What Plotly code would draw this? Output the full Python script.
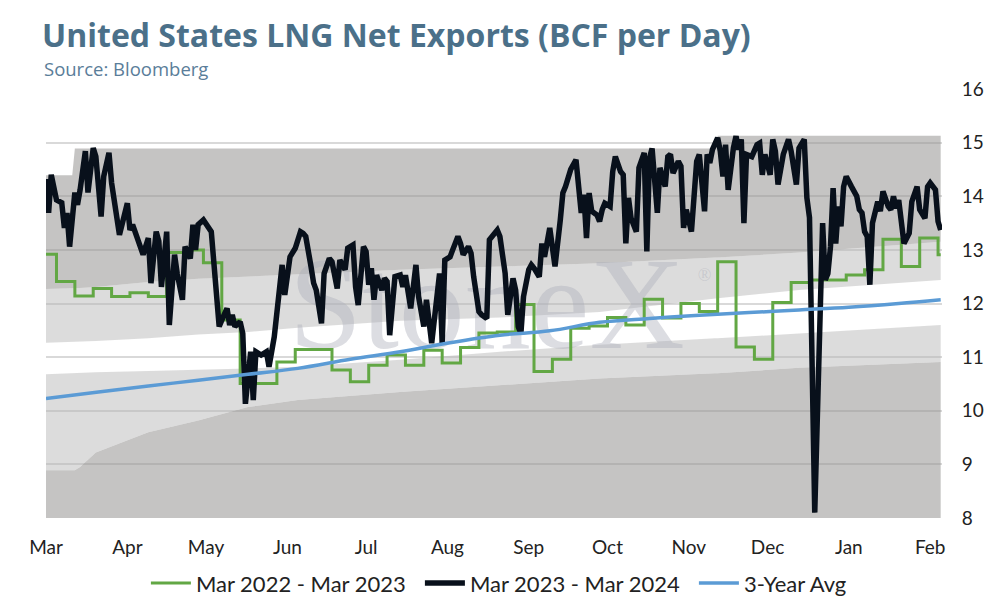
import pandas as pd
import plotly.graph_objects as go

START = pd.Timestamp("2023-03-01")

# Mar 2023 - Mar 2024 (days after Mar 1, BCF/d)
days_2324 = [0, 1, 2, 4, 6, 7, 8, 9, 11, 12, 13, 15, 16, 18, 19, 21, 22, 24, 25, 28,
             31, 32, 33, 35, 37, 39, 40, 42, 43, 44, 46, 47, 49, 50, 52, 53, 55, 56, 57, 58,
             60, 63, 64, 65, 66, 67, 69, 70, 71, 72, 74, 75, 76, 78, 79, 80, 82, 84, 85, 87,
             88, 90, 91, 93, 95, 97, 98, 99, 101, 102, 103, 105, 106, 108, 109, 111, 112, 114, 115, 117,
             118, 119, 121, 122, 123, 124, 125, 126, 128, 129, 130, 131, 133, 135, 136, 137, 139, 141, 142, 144,
             145, 147, 150, 151, 152, 154, 155, 157, 158, 159, 161, 162, 163, 165, 166, 168, 169, 171, 172, 173,
             175, 176, 178, 179, 180, 181, 182, 184, 185, 186, 188, 189, 190, 192, 193, 194, 196, 197, 198, 200,
             202, 203, 204, 205, 206, 207, 208, 210, 211, 212, 213, 215, 216, 217, 219, 220, 221, 222, 223, 225,
             226, 228, 229, 230, 231, 233, 234, 236, 237, 238, 239, 241, 242, 243, 244, 246, 248, 249, 251, 252,
             253, 254, 256, 257, 258, 259, 260, 262, 263, 264, 265, 266, 267, 269, 271, 272, 273, 274, 276, 277,
             278, 279, 281, 283, 284, 286, 287, 289, 290, 291, 293, 296, 297, 298, 299, 300, 301, 302, 303, 304,
             305, 307, 309, 310, 311, 312, 313, 314, 315, 317, 318, 319, 321, 322, 323, 324, 325, 327, 329, 330,
             331, 332, 333, 335, 336, 337, 339, 340, 341]
exports_2324 = [14.32, 13.69, 14.40, 13.93, 13.88, 13.41, 13.69, 13.06, 14.07, 13.84, 14.12, 14.84, 14.07, 14.90, 14.74, 13.62, 14.37, 14.81, 14.25, 13.28,
                13.87, 13.37, 13.47, 13.16, 12.91, 13.22, 12.38, 13.34, 13.16, 12.31, 13.34, 11.60, 12.91, 12.56, 12.07, 13.06, 12.84, 13.47, 13.00, 13.47,
                13.56, 13.34, 12.69, 12.31, 11.57, 11.69, 11.91, 11.60, 11.79, 11.57, 11.66, 11.44, 10.13, 11.10, 10.20, 11.10, 11.04, 11.10, 10.82, 11.38,
                11.82, 12.72, 12.16, 12.87, 13.03, 13.34, 13.31, 13.25, 12.69, 12.38, 12.25, 11.63, 12.56, 12.84, 12.78, 12.28, 12.81, 12.63, 13.03, 13.09,
                12.31, 11.97, 13.06, 12.97, 12.35, 12.66, 12.07, 12.53, 12.25, 12.47, 12.41, 11.41, 12.50, 12.53, 12.31, 12.53, 11.91, 12.72, 12.13, 11.57,
                12.07, 11.26, 12.56, 11.26, 12.81, 12.87, 13.00, 13.25, 13.12, 12.91, 13.06, 12.94, 12.50, 11.85, 11.79, 11.72, 13.19, 13.34, 13.37, 13.25,
                12.56, 11.79, 12.47, 12.25, 11.57, 11.44, 12.13, 12.63, 12.72, 12.66, 12.50, 13.12, 12.87, 13.41, 13.00, 12.69, 13.55, 14.06, 14.18, 14.50,
                14.68, 14.09, 13.69, 14.03, 13.22, 14.06, 13.72, 13.65, 13.53, 13.75, 13.87, 13.81, 14.46, 14.74, 14.46, 14.40, 13.12, 13.97, 13.59, 13.34,
                14.53, 14.81, 12.97, 14.71, 14.89, 13.69, 14.53, 14.18, 14.74, 14.78, 14.43, 14.65, 14.56, 13.41, 13.75, 13.34, 14.65, 14.78, 13.72, 14.78,
                14.62, 14.87, 15.09, 14.84, 14.37, 14.96, 14.12, 14.90, 15.12, 14.87, 15.06, 13.50, 14.78, 14.74, 14.96, 14.99, 14.40, 14.78, 14.40, 15.06,
                14.84, 14.22, 14.78, 15.06, 14.84, 14.22, 14.90, 15.06, 13.97, 13.60, 8.10, 13.50, 12.44, 12.56, 13.06, 14.15, 13.12, 13.81, 13.44, 14.18,
                14.37, 14.18, 14.00, 13.75, 13.69, 13.34, 13.25, 12.35, 13.50, 13.90, 13.72, 14.09, 13.81, 13.75, 14.00, 13.78, 13.93, 13.12, 13.31, 13.90,
                14.03, 14.18, 13.75, 13.59, 14.18, 14.25, 14.12, 13.53, 13.37]

# Mar 2022 - Mar 2023 (weekly)
days_2223 = [0, 4, 11, 18, 25, 32, 39, 46, 53, 60, 67, 74, 81, 88, 95, 102, 109, 116, 123, 130,
             137, 144, 151, 158, 165, 172, 179, 186, 193, 200, 207, 214, 221, 228, 235, 242, 249, 256, 263, 270,
             277, 284, 291, 298, 305, 312, 319, 326, 333, 340, 341]
exports_2223 = [12.92, 12.41, 12.14, 12.28, 12.13, 12.20, 12.13, 12.95, 13.00, 12.76, 11.69, 10.51, 10.51, 10.91, 11.14, 11.14, 10.76, 10.54, 10.85, 11.04,
                10.85, 11.13, 10.89, 11.18, 11.45, 11.47, 11.98, 10.73, 10.96, 11.54, 11.58, 11.74, 11.60, 12.08, 11.73, 12.00, 11.85, 12.78, 11.19, 10.96,
                12.02, 12.39, 12.44, 12.44, 12.53, 12.63, 13.20, 12.69, 13.22, 12.91, 12.91]

# 3-year average
days_avg = [0, 20, 39, 58, 77, 96, 116, 135, 154, 173, 192, 211, 230, 249, 268, 287, 306, 325, 341]
avg_3yr = [10.23, 10.35, 10.46, 10.57, 10.68, 10.79, 10.96, 11.10, 11.27, 11.41, 11.49, 11.65, 11.72, 11.78, 11.83, 11.88, 11.93, 12.00, 12.07]

# historical range bands (bottom to top)
days_band = [0, 10, 11, 13, 19, 39, 58, 77, 96, 135, 173, 211, 255, 256, 287, 341]
band_low = [8.89, 8.89, 8.89, 8.95, 9.22, 9.60, 9.82, 10.07, 10.20, 10.35, 10.48, 10.60, 10.70, 10.70, 10.80, 10.91]
band_q1 = [10.68, 10.70, 10.70, 10.71, 10.72, 10.74, 10.76, 10.79, 10.82, 10.95, 11.10, 11.23, 11.35, 11.35, 11.44, 11.60]
band_q3 = [11.27, 11.28, 11.28, 11.29, 11.30, 11.35, 11.42, 11.47, 11.55, 11.68, 11.74, 11.84, 12.10, 12.10, 12.25, 12.44]
band_high = [12.27, 12.28, 12.28, 12.29, 12.31, 12.40, 12.46, 12.50, 12.55, 12.63, 12.69, 12.75, 12.86, 12.86, 12.95, 13.15]
band_max = [14.39, 14.39, 14.89, 14.89, 14.89, 14.89, 14.89, 14.89, 14.89, 14.89, 14.89, 14.89, 14.89, 15.13, 15.13, 15.13]

month_ticks = pd.date_range("2023-03-01", "2024-02-01", freq="MS")


def to_dates(days):
    return START + pd.to_timedelta(days, unit="D")


DARK = "rgba(150,148,146,0.55)"
LIGHT = "rgba(180,180,180,0.47)"
FONT = "Lato"
TITLE_FONT = "Open Sans"
W, H = 986, 598  # page body keeps an 8px margin

fig = go.Figure()

band_x = to_dates(days_band)
bands = [
    (band_low, "tozeroy", DARK),
    (band_q1, "tonexty", LIGHT),
    (band_q3, "tonexty", "rgba(255,255,255,0)"),
    (band_high, "tonexty", LIGHT),
    (band_max, "tonexty", DARK),
]
for vals, fill, color in bands:
    fig.add_trace(go.Scatter(x=band_x, y=vals, mode="lines", line=dict(width=0),
                             fill=fill, fillcolor=color, showlegend=False, hoverinfo="skip"))

# watermark, kept behind the data lines
fig.add_trace(go.Scatter(x=[START + pd.Timedelta(days=168)], y=[11.78], mode="text", text=["StoneX"],
                         textfont=dict(family="Liberation Serif", size=132, color="rgba(172,175,186,0.42)"),
                         showlegend=False, hoverinfo="skip"))
fig.add_trace(go.Scatter(x=[START + pd.Timedelta(days=251)], y=[12.5], mode="text", text=["®"],
                         textfont=dict(family="Liberation Serif", size=18, color="rgba(172,175,186,0.42)"),
                         showlegend=False, hoverinfo="skip"))

fig.add_trace(go.Scatter(x=to_dates(days_2223), y=exports_2223, mode="lines", name="Mar 2022 - Mar 2023",
                         line=dict(color="#62a744", width=3, shape="hv")))
fig.add_trace(go.Scatter(x=to_dates(days_2324), y=exports_2324, mode="lines", name="Mar 2023 - Mar 2024",
                         line=dict(color="#08101b", width=5.5)))
fig.add_trace(go.Scatter(x=to_dates(days_avg), y=avg_3yr, mode="lines", name="3-Year Avg",
                         line=dict(color="#5b9bd5", width=3.5, shape="spline")))

fig.update_layout(
    width=W, height=H,
    margin=dict(l=38, r=52, t=81, b=88, autoexpand=False),
    paper_bgcolor="white", plot_bgcolor="white",
    font=dict(family=FONT, color="#222222"),
    title=dict(text="<b>United States LNG Net Exports (BCF per Day)</b>",
               font=dict(family=TITLE_FONT, size=32, color="#4b7089"),
               x=34 / W, xref="container", xanchor="left",
               y=1 - 28 / H, yref="container", yanchor="middle"),
    legend=dict(orientation="h", x=0.1115, xanchor="left", y=-0.152, yanchor="middle",
                traceorder="normal", entrywidth=219, entrywidthmode="pixels",
                font=dict(family=FONT, size=22, color="#222222"), itemwidth=40),
    showlegend=True,
)
fig.add_annotation(text="Source: Bloomberg", xref="paper", yref="paper", x=-0.004, y=1.0,
                   yshift=6, xanchor="left", yanchor="bottom", showarrow=False,
                   font=dict(family=TITLE_FONT, size=18.5, color="#5a7d99"))

fig.update_xaxes(type="date", range=["2023-03-01", "2024-02-05 12:00"],
                 tickvals=month_ticks, tickformat="%b", ticks="",
                 tickfont=dict(size=19, color="#222222"), ticklabelstandoff=16,
                 showgrid=False, zeroline=False, showline=False)
fig.update_yaxes(range=[8, 16], dtick=1, side="right",
                 ticks="outside", ticklen=15, tickcolor="rgba(0,0,0,0)",
                 tickfont=dict(size=19, color="#222222"),
                 showgrid=True, gridcolor="#d9d9d9", gridwidth=2, zeroline=False, showline=False)

fig.write_html("out.html")
